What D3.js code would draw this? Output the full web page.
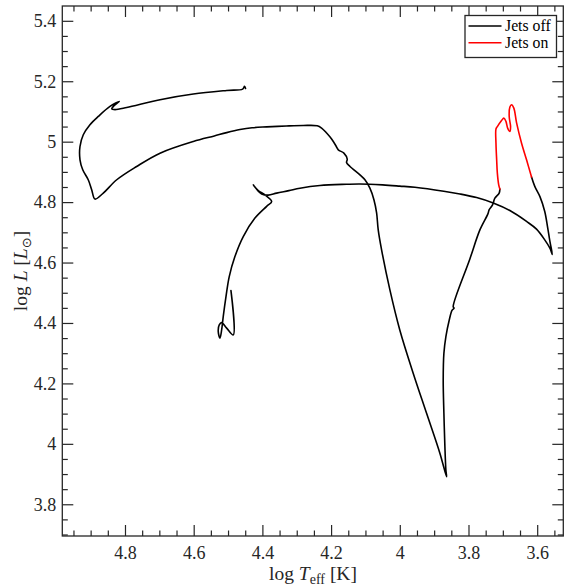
<!DOCTYPE html>
<html>
<head>
<meta charset="utf-8">
<script src="https://cdn.jsdelivr.net/npm/d3@7/dist/d3.min.js"></script>
<style>
  html, body { margin: 0; padding: 0; background: #fff; }
  svg { display: block; }
</style>
</head>
<body>
<svg id="chart" width="565" height="588"></svg>
<script>
// ---------------- DATA ----------------
// Track before jets switch on: [log Teff, log L]
const jetsOffBefore = [
  [4.4915,4.507],[4.4848,4.3606],[4.504,4.383],[4.5186,4.401],[4.5256,4.394],[4.5285,4.3715],
  [4.5236,4.3497],[4.5186,4.377],[4.514,4.421],[4.506,4.487],[4.4965,4.5536],[4.480,4.6198],
  [4.4557,4.686],[4.4217,4.747],[4.3876,4.786],[4.373,4.802],[4.3925,4.824],[4.412,4.838],
  [4.4266,4.857],[4.415,4.840],[4.402,4.827],[4.383,4.823],[4.3585,4.8298],[4.323,4.838],
  [4.2907,4.846],[4.2325,4.855],[4.155,4.859],[4.116,4.860],[4.050,4.857],[4.0,4.853],
  [3.956,4.849],[3.872,4.836],[3.825,4.827],[3.7764,4.815],[3.728,4.797],[3.6795,4.772],
  [3.631,4.736],[3.602,4.7106],[3.578,4.675],[3.563,4.6476],[3.556,4.627],[3.563,4.67],
  [3.570,4.719],[3.578,4.769],[3.592,4.818],[3.607,4.852],[3.6165,4.883]
];
// Jets on segment
const jetsOn = [
  [3.6165,4.883],[3.631,4.940],[3.6455,4.995],[3.660,5.062],[3.668,5.111],[3.6746,5.122],
  [3.6795,5.115],[3.6815,5.083],[3.6775,5.050],[3.6795,5.034],[3.686,5.045],[3.691,5.067],
  [3.697,5.078],[3.7037,5.070],[3.716,5.050],[3.720,5.042],[3.720,4.995],[3.718,4.940],
  [3.716,4.896],[3.712,4.857],[3.7086,4.843]
];
// Track after jets switch off
const jetsOffAfter = [
  [3.7086,4.843],[3.7107,4.830],[3.7232,4.813],[3.73,4.791],[3.74,4.774],[3.7435,4.761],
  [3.7668,4.708],[3.796,4.612],[3.8446,4.454],[3.842,4.449],[3.848,4.442],[3.856,4.410],
  [3.8658,4.355],[3.8716,4.300],[3.8736,4.2115],[3.8716,4.101],[3.8687,3.9907],[3.8658,3.9135],
  [3.8638,3.891],[3.8833,3.969],[3.922,4.101],[3.961,4.234],[4.0,4.377],[4.0288,4.5096],
  [4.053,4.642],[4.0628,4.708],[4.0675,4.764],[4.0753,4.808],[4.087,4.846],[4.1015,4.874],
  [4.116,4.890],[4.145,4.918],[4.155,4.931],[4.153,4.942],[4.1627,4.962],[4.179,4.973],
  [4.186,4.9864],[4.1985,5.0086],[4.213,5.0285],[4.2276,5.045],[4.2404,5.0526],[4.281,5.0536],
  [4.33,5.052],[4.3876,5.049],[4.43,5.046],[4.4653,5.040],[4.504,5.030],[4.54,5.019],
  [4.601,5.0007],[4.698,4.962],[4.766,4.918],[4.824,4.874],[4.8632,4.8298],[4.8873,4.810],
  [4.897,4.841],[4.907,4.874],[4.923,4.907],[4.931,4.940],[4.931,4.984],[4.9214,5.0228],
  [4.902,5.056],[4.8777,5.0835],[4.8437,5.1166],[4.8166,5.133],[4.834,5.1166],[4.8387,5.108],
  [4.829,5.106],[4.795,5.113],[4.698,5.139],[4.601,5.1576],[4.504,5.1695],[4.4575,5.174],
  [4.452,5.183],[4.449,5.176]
];

const xTickValues = [4.8, 4.6, 4.4, 4.2, 4.0, 3.8, 3.6];
const xTickLabels = ["4.8", "4.6", "4.4", "4.2", "4", "3.8", "3.6"];
const yTickValues = [3.8, 4.0, 4.2, 4.4, 4.6, 4.8, 5.0, 5.2, 5.4];
const yTickLabels = ["3.8", "4", "4.2", "4.4", "4.6", "4.8", "5", "5.2", "5.4"];
const legendLabels = ["Jets off", "Jets on"];
const legendColors = ["#000000", "#ff0000"];

// ---------------- LAYOUT ----------------
const FONT = "Liberation Serif, Times New Roman, Nimbus Roman, DejaVu Serif, serif";
const L = 62.3, R = 563.3, T = 6, B = 536;
const axisColor = "#262626";
const svg = d3.select("#chart").attr("font-family", FONT);

const x = d3.scaleLinear().domain([4.9825, 3.524]).range([L, R]);
const y = d3.scaleLinear().domain([3.695, 5.449]).range([B, T]);

const xMinor = d3.range(3.55, 4.96, 0.05).map(v => +v.toFixed(2))
  .filter(v => x(v) > L + 1 && x(v) < R - 1 && !xTickValues.some(t => Math.abs(t - v) < 1e-6));
const yMinor = d3.range(3.70, 5.45, 0.05).map(v => +v.toFixed(2))
  .filter(v => y(v) < B - 1 && y(v) > T + 1 && !yTickValues.some(t => Math.abs(t - v) < 1e-6));

const majorLen = 11, minorLen = 5.5;
const fmtX = v => xTickLabels[xTickValues.findIndex(t => Math.abs(t - v) < 1e-9)];
const fmtY = v => yTickLabels[yTickValues.findIndex(t => Math.abs(t - v) < 1e-9)];

function styleAxis(g) {
  g.attr("font-family", FONT).attr("font-size", 18);
  g.select(".domain").remove();
  g.selectAll("line").attr("stroke", axisColor).attr("stroke-width", 1.2);
  g.selectAll("text").attr("fill", axisColor).attr("font-family", FONT).attr("font-size", 18);
}

function addAxis(axisGen, tx, ty) {
  svg.append("g").attr("transform", `translate(${tx},${ty})`).call(axisGen).call(styleAxis);
}
// Bottom
addAxis(d3.axisBottom(x).tickValues(xTickValues).tickFormat(fmtX).tickSizeInner(-majorLen).tickSizeOuter(0).tickPadding(10), 0, B);
addAxis(d3.axisBottom(x).tickValues(xMinor).tickFormat("").tickSizeInner(-minorLen).tickSizeOuter(0), 0, B);
// Top
addAxis(d3.axisTop(x).tickValues(xTickValues).tickFormat("").tickSizeInner(-majorLen).tickSizeOuter(0), 0, T);
addAxis(d3.axisTop(x).tickValues(xMinor).tickFormat("").tickSizeInner(-minorLen).tickSizeOuter(0), 0, T);
// Left
addAxis(d3.axisLeft(y).tickValues(yTickValues).tickFormat(fmtY).tickSizeInner(-majorLen).tickSizeOuter(0).tickPadding(6), L, 0);
addAxis(d3.axisLeft(y).tickValues(yMinor).tickFormat("").tickSizeInner(-minorLen).tickSizeOuter(0), L, 0);
// Right
addAxis(d3.axisRight(y).tickValues(yTickValues).tickFormat("").tickSizeInner(-majorLen).tickSizeOuter(0), R, 0);
addAxis(d3.axisRight(y).tickValues(yMinor).tickFormat("").tickSizeInner(-minorLen).tickSizeOuter(0), R, 0);

// Frame
svg.append("rect").attr("x", L).attr("y", T).attr("width", R - L).attr("height", B - T)
  .attr("fill", "none").attr("stroke", axisColor).attr("stroke-width", 1.3);

// ---------------- TRACKS ----------------
const line = d3.line().x(d => x(d[0])).y(d => y(d[1])).curve(d3.curveCatmullRom.alpha(0.5));
const plot = svg.append("g");
[jetsOffBefore, jetsOffAfter].forEach(seg => {
  plot.append("path").datum(seg).attr("d", line)
    .attr("fill", "none").attr("stroke", legendColors[0]).attr("stroke-width", 1.6)
    .attr("stroke-linejoin", "round").attr("stroke-linecap", "round");
});
plot.append("path").datum(jetsOn).attr("d", line)
  .attr("fill", "none").attr("stroke", legendColors[1]).attr("stroke-width", 1.6)
  .attr("stroke-linejoin", "round").attr("stroke-linecap", "round");

// ---------------- AXIS LABELS ----------------
const xl = svg.append("text").attr("x", 313).attr("y", 580).attr("text-anchor", "middle")
  .attr("fill", axisColor).attr("font-family", FONT).attr("font-size", 19.5);
xl.append("tspan").text("log ");
xl.append("tspan").attr("font-style", "italic").text("T");
xl.append("tspan").attr("dy", 4).attr("font-size", 14).text("eff");
xl.append("tspan").attr("dy", -4).text(" [K]");

const yl = svg.append("text").attr("transform", "translate(27,271) rotate(-90)").attr("text-anchor", "middle")
  .attr("fill", axisColor).attr("font-family", FONT).attr("font-size", 19.5);
yl.append("tspan").text("log ");
yl.append("tspan").attr("font-style", "italic").text("L");
yl.append("tspan").text(" [");
yl.append("tspan").attr("font-style", "italic").text("L");
yl.append("tspan").attr("dy", 4).attr("font-size", 13).attr("font-family", "DejaVu Sans, sans-serif").text("\u2299");
yl.append("tspan").attr("dy", -4).text("]");

// ---------------- LEGEND ----------------
const lg = svg.append("g").attr("font-family", FONT);
lg.append("rect").attr("x", 465).attr("y", 15.5).attr("width", 91.5).attr("height", 42)
  .attr("fill", "#fff").attr("stroke", axisColor).attr("stroke-width", 1.3);
legendLabels.forEach((lab, i) => {
  const yy = 26 + i * 16.7;
  lg.append("line").attr("x1", 468.5).attr("x2", 501.5).attr("y1", yy).attr("y2", yy)
    .attr("stroke", legendColors[i]).attr("stroke-width", 1.6);
  lg.append("text").attr("x", 505).attr("y", yy + 5.2).attr("fill", "#000")
    .attr("font-size", 15.75).text(lab);
});
</script>
</body>
</html>
